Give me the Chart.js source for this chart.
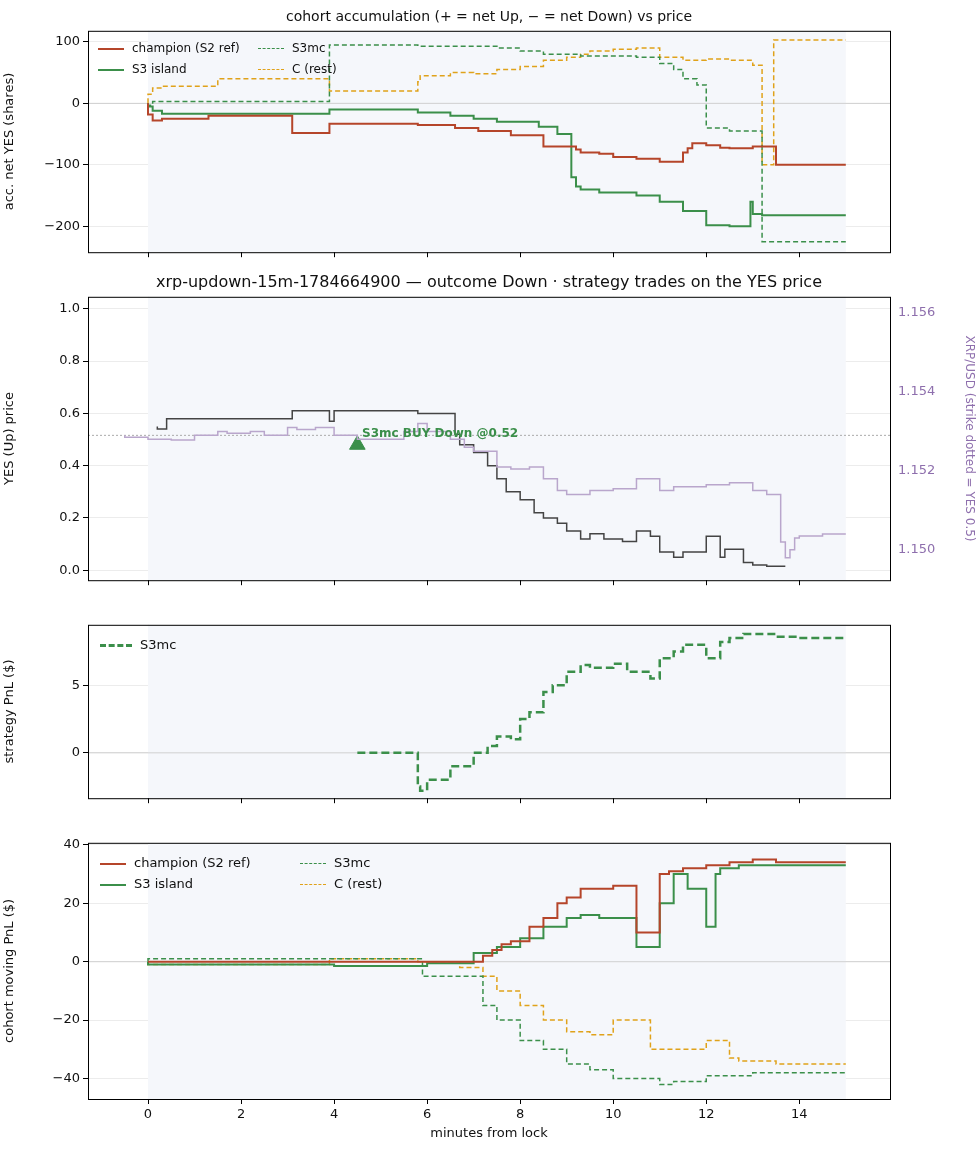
<!DOCTYPE html>
<html><head><meta charset="utf-8">
<script src="https://cdn.jsdelivr.net/npm/chart.js@4.4.1/dist/chart.umd.min.js"></script>
<style>
body{margin:0;background:#fff;font-family:"DejaVu Sans",sans-serif}
#wrap{position:relative;width:978px;height:1156px}
canvas{position:absolute;left:0}
.ttl{position:absolute;left:88px;width:802px;text-align:center;color:#111}
.leg{position:absolute;font-size:12px;color:#111;line-height:21px}
.leg span{display:inline-block;vertical-align:middle;width:26px;height:0;margin-right:8px}
</style></head><body><div id="wrap">
<canvas id="c1"></canvas><canvas id="c2"></canvas><canvas id="c3"></canvas><canvas id="c4"></canvas>
<div class="ttl" style="top:8px;font-size:14px">cohort accumulation (+ = net Up, − = net Down) vs price</div>
<div class="ttl" style="top:272px;font-size:16px">xrp-updown-15m-1784664900 — outcome Down · strategy trades on the YES price</div>
<div class="leg" style="left:98px;top:38px;width:300px;font-size:12px">
<div style="float:left;width:160px"><div><span style="border-top:2px solid #b5452a"></span>champion (S2 ref)</div><div><span style="border-top:2px solid #3b8f4a"></span>S3 island</div></div>
<div style="float:left"><div><span style="border-top:1.5px dashed #3b8f4a"></span>S3mc</div><div><span style="border-top:1.5px dashed #e0a21a"></span>C (rest)</div></div></div>
<div class="leg" style="left:100px;top:634px;font-size:13px"><span style="border-top:3px dashed #3b8f4a;width:32px"></span>S3mc</div>
<div class="leg" style="left:100px;top:852px;width:320px;font-size:13px">
<div style="float:left;width:200px"><div><span style="border-top:2px solid #b5452a"></span>champion (S2 ref)</div><div><span style="border-top:2px solid #3b8f4a"></span>S3 island</div></div>
<div style="float:left"><div><span style="border-top:1.5px dashed #3b8f4a"></span>S3mc</div><div><span style="border-top:1.5px dashed #e0a21a"></span>C (rest)</div></div></div>
</div>
<script>
const RED = "#b5452a", GREEN = "#3b8f4a", ORANGE = "#e0a21a", PURPLE = "#b9a6cc";
const xTicks = [0, 2, 4, 6, 8, 10, 12, 14];

// panel 1: accumulated net YES shares
const accChampion = [[0,0],[0.1,-18],[0.3,-28],[1.3,-25],[3.1,-20],[3.9,-48],[5.8,-33],[6.6,-35],[7.1,-40],[7.8,-45],[8.5,-52],[9.2,-70],[9.3,-75],[9.7,-80],[10,-82],[10.5,-87],[11,-90],[11.5,-95],[11.6,-80],[11.7,-73],[12,-65],[12.3,-68],[12.5,-72],[13,-73],[13.5,-70],[13.7,-100],[15,-100]];
const accIsland = [[0,0],[0.1,-5],[0.3,-12],[3.9,-17],[5.8,-10],[6.5,-15],[7,-20],[7.5,-25],[8.4,-30],[8.8,-38],[9.1,-50],[9.2,-120],[9.3,-135],[9.7,-140],[10.5,-145],[11,-150],[11.5,-160],[12,-175],[12.5,-198],[12.95,-200],[13,-160],[13.2,-180],[15,-182]];
const accS3mc = [[0,0],[0.1,-3],[3.9,3],[5.8,95],[7.5,93],[8,90],[8.5,85],[9.3,80],[10.5,77],[11,75],[11.3,65],[11.5,55],[11.8,40],[12,30],[12.5,-40],[13.2,-45],[13.5,-225],[15,-225]];
const accRest = [[0,0],[0.1,15],[0.3,25],[1.5,28],[3.9,40],[5.8,20],[5.85,35],[6.5,45],[7,50],[7.5,48],[8,55],[8.5,60],[9,70],[9.3,75],[9.5,80],[10,85],[10.5,88],[11,90],[11.5,75],[12,70],[12.5,72],[13,70],[13.2,62],[13.45,-100],[13.6,103],[15,103]];

// panel 2: YES price and XRP spot
const yesPrice = [[0.2,0.55],[0.4,0.54],[3.1,0.58],[3.9,0.61],[4.0,0.57],[5.8,0.61],[6.6,0.6],[6.7,0.52],[7,0.48],[7.3,0.45],[7.5,0.4],[7.7,0.35],[8,0.3],[8.3,0.27],[8.5,0.22],[8.8,0.2],[9,0.18],[9.3,0.15],[9.5,0.12],[9.8,0.14],[10.2,0.12],[10.5,0.11],[10.8,0.15],[11,0.13],[11.3,0.07],[11.5,0.05],[12,0.07],[12.3,0.13],[12.4,0.05],[12.8,0.08],[13,0.03],[13.3,0.02],[13.7,0.015]];
const xrpSpot = [[-0.5,1.1529],[0,1.15285],[0.5,1.1528],[1,1.15278],[1.5,1.1529],[1.7,1.1530],[2.2,1.15295],[2.5,1.1530],[3,1.1529],[3.2,1.1531],[3.6,1.15305],[4,1.1531],[4.5,1.1529],[5,1.1528],[5.5,1.1528],[5.8,1.1530],[6,1.1532],[6.5,1.1530],[6.8,1.1528],[7,1.1526],[7.5,1.1525],[7.8,1.1521],[8.2,1.15205],[8.5,1.1521],[8.8,1.1518],[9,1.1515],[9.5,1.1514],[10,1.1515],[10.5,1.15155],[11,1.1518],[11.3,1.1515],[12,1.1516],[12.5,1.15165],[13,1.1517],[13.3,1.1515],[13.6,1.1514],[13.7,1.1502],[13.8,1.1498],[13.9,1.1500],[14,1.1503],[14.5,1.15035],[15,1.1504]];
const strike = 1.1529;
const trade = [[4.5,0.48]];
const tradeLabel = "S3mc BUY Down @0.52";

// panel 3: strategy PnL
const pnlS3mc = [[4.5,0],[5.8,0],[5.85,-2.5],[6,-2.8],[6.5,-2],[7,-1],[7.3,0],[7.5,0.5],[7.8,1.2],[8,1],[8.2,2.5],[8.5,3],[8.7,4.5],[9,5],[9.3,6],[9.5,6.5],[10,6.3],[10.3,6.6],[10.8,6],[11,5.5],[11.3,7],[11.5,7.5],[12,8],[12.3,7],[12.5,8.2],[12.8,8.5],[13.5,8.8],[14,8.6],[15,8.5]];

// panel 4: cohort moving PnL
const movChampion = [[0,0],[7.2,0],[7.4,2],[7.6,4],[7.8,6],[8.2,7],[8.5,12],[8.8,15],[9,20],[9.3,22],[9.5,25],[10,25],[10.5,26],[11,10],[11.2,30],[11.5,31],[12,32],[12.5,33],[13,34],[13.5,35],[15,34]];
const movIsland = [[0,0],[4,-1],[6,-1.5],[7,-0.5],[7.5,3],[8,5],[8.5,8],[9,12],[9.3,15],[9.7,16],[10.5,15],[11,5],[11.3,20],[11.6,30],[12,25],[12.2,12],[12.3,30],[12.7,32],[13,33],[15,33]];
const movS3mc = [[0,0],[5.9,1],[7.2,-5],[7.5,-15],[8,-20],[8.5,-27],[9,-30],[9.5,-35],[10,-37],[11,-40],[11.3,-42],[12,-41],[13,-39],[15,-38]];
const movRest = [[0,0],[3.9,-1],[5.8,1],[6.7,0],[7.2,-2],[7.5,-5],[8,-10],[8.5,-15],[9,-20],[9.5,-24],[10,-25],[10.8,-20],[11,-30],[12,-30],[12.5,-27],[12.7,-33],[13.5,-34],[15,-35]];

const pts = a => a.map(([x, y]) => ({x, y}));
const minus = v => String(v).replace("-", "−");

const framePlugin = {
  id: "frame",
  beforeDatasetsDraw(ch) {
    const {ctx, chartArea: a, scales: {x}} = ch;
    ctx.save();
    ctx.fillStyle = "#f5f7fb";
    ctx.fillRect(x.getPixelForValue(0), a.top, x.getPixelForValue(15) - x.getPixelForValue(0), a.bottom - a.top);
    if (ch.options.zeroLine) {
      const y = ch.scales.y.getPixelForValue(0);
      ctx.strokeStyle = "#d0d0d0"; ctx.lineWidth = 1;
      ctx.beginPath(); ctx.moveTo(a.left, y); ctx.lineTo(a.right, y); ctx.stroke();
    }
    if (ch.options.strikeLine) {
      const y = ch.scales.y2.getPixelForValue(strike);
      ctx.strokeStyle = "#aaa"; ctx.setLineDash([2, 2]);
      ctx.beginPath(); ctx.moveTo(a.left, y); ctx.lineTo(a.right, y); ctx.stroke();
    }
    ctx.restore();
  },
  afterDraw(ch) {
    const {ctx, chartArea: a} = ch;
    ctx.save();
    ctx.strokeStyle = "#000"; ctx.lineWidth = 1;
    ctx.strokeRect(a.left + 0.5, a.top + 0.5, a.right - a.left, a.bottom - a.top);
    if (ch.options.strikeLine) {
      ctx.fillStyle = GREEN; ctx.font = "bold 12px 'DejaVu Sans'";
      ctx.textBaseline = "middle";
      ctx.fillText(tradeLabel, ch.scales.x.getPixelForValue(trade[0][0] + 0.1), ch.scales.y.getPixelForValue(0.52));
    }
    ctx.restore();
  }
};

function line(data, color, dashed, width) {
  return {data: pts(data), borderColor: color, borderWidth: width || (dashed ? 1.5 : 2),
    borderDash: dashed ? (width > 2 ? [8, 4] : [5, 3]) : [], stepped: "after", pointRadius: 0, fill: false};
}

function makeChart(id, top, height, xH, datasets, yOpt, extra) {
  const cv = document.getElementById(id);
  cv.style.top = (top - 12) + "px";
  cv.width = 978; cv.height = height + xH + 17;
  const last = xH > 20;
  const scales = {
    x: {type: "linear", min: -1.29, max: 15.95, afterBuildTicks: s => { s.ticks = xTicks.map(v => ({value: v})); },
      grid: {color: "#ececec", tickColor: "#000", tickLength: 5}, border: {display: false},
      afterFit: s => { s.height = xH; },
      ticks: {display: last, color: "#111", font: {size: 13, family: "DejaVu Sans"}},
      title: {display: last, text: "minutes from lock", color: "#111", font: {size: 13, family: "DejaVu Sans"}}},
    y: {min: yOpt.min, max: yOpt.max, afterBuildTicks: s => { s.ticks = yOpt.ticks.map(v => ({value: v})); },
      grid: {color: "#ececec", tickColor: "#000", tickLength: 5}, border: {display: false},
      afterFit: s => { s.width = 88; },
      ticks: {color: "#111", font: {size: 13, family: "DejaVu Sans"}, callback: yOpt.fmt},
      title: {display: true, text: yOpt.title, color: "#111", font: {size: 13, family: "DejaVu Sans"}, padding: 2}}
  };
  if (extra) scales.y2 = extra;
  return new Chart(cv, {
    type: "line",
    data: {datasets},
    options: {responsive: false, animation: false, events: [],
      zeroLine: !extra, strikeLine: !!extra,
      layout: {padding: {top: 0, right: extra ? 0 : 88, left: 0, bottom: 0}},
      plugins: {legend: {display: false}, tooltip: {enabled: false}},
      scales},
    plugins: [framePlugin]
  });
}

makeChart("c1", 32, 220, 6, [
  line(accChampion, RED), line(accIsland, GREEN), line(accS3mc, GREEN, true), line(accRest, ORANGE, true)
], {min: -242, max: 118, ticks: [-200, -100, 0, 100], fmt: minus, title: "acc. net YES (shares)"});

makeChart("c2", 298, 282, 6, [
  {...line(xrpSpot, PURPLE, false, 1.5), yAxisID: "y2"},
  {...line(yesPrice, "#444", false, 1.5), yAxisID: "y"},
  {type: "scatter", data: pts(trade), pointStyle: "triangle", pointRadius: 9, backgroundColor: GREEN, borderColor: GREEN, yAxisID: "y"}
], {min: -0.038, max: 1.046, ticks: [0, 0.2, 0.4, 0.6, 0.8, 1.0], fmt: v => v.toFixed(1), title: "YES (Up) price"},
{position: "right", min: 1.14923, max: 1.15641,
  afterBuildTicks: s => { s.ticks = [1.150, 1.152, 1.154, 1.156].map(v => ({value: v})); },
  afterFit: s => { s.width = 88; }, grid: {display: false, tickColor: "#8e6fad", tickLength: 5}, border: {display: false},
  ticks: {color: "#8e6fad", font: {size: 13, family: "DejaVu Sans"}, callback: v => v.toFixed(3)},
  title: {display: true, text: "XRP/USD (strike dotted = YES 0.5)", color: "#8e6fad", font: {size: 12, family: "DejaVu Sans"}, padding: 2}});

makeChart("c3", 626, 172, 6, [
  line(pnlS3mc, GREEN, true, 2.5)
], {min: -3.36, max: 9.48, ticks: [0, 5], fmt: minus, title: "strategy PnL ($)"});

makeChart("c4", 844, 250, 46, [
  line(movChampion, RED), line(movIsland, GREEN), line(movS3mc, GREEN, true), line(movRest, ORANGE, true)
], {min: -47, max: 40.7, ticks: [-40, -20, 0, 20, 40], fmt: minus, title: "cohort moving PnL ($)"});
</script></body></html>
